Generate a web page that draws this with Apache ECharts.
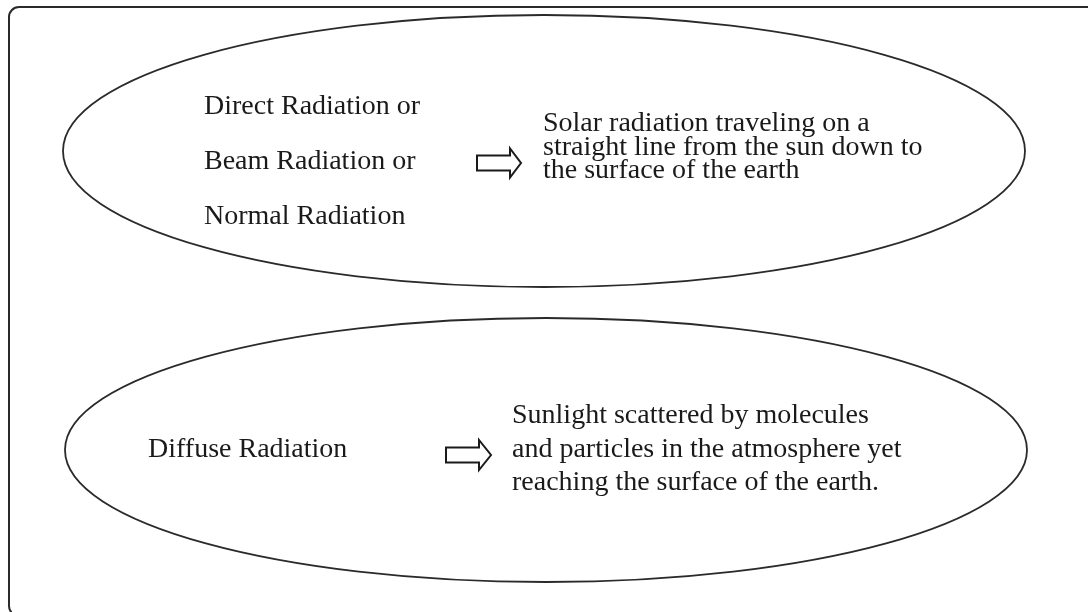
<!DOCTYPE html>
<html>
<head>
<meta charset="utf-8">
<script src="https://cdn.jsdelivr.net/npm/echarts@6/dist/echarts.min.js"></script>
<style>
  html, body { margin: 0; padding: 0; background: #fff; }
  #main { width: 1088px; height: 612px; }
</style>
</head>
<body>
<div id="main"></div>
<script>
// radiation types and their descriptions
const leftTop = ['Direct Radiation or', 'Beam Radiation or', 'Normal Radiation'];
const rightTop = ['Solar radiation traveling on a', 'straight line from the sun down to', 'the surface of the earth'];
const leftBottom = ['Diffuse Radiation'];
const rightBottom = ['Sunlight scattered by molecules', 'and particles in the atmosphere yet', 'reaching the surface of the earth.'];

const font = '"Liberation Serif", "Times New Roman", serif';
const ink = '#1a1a1a';
const lineColor = '#2a2a2a';

function textLines(lines, x, y0, step) {
    return lines.map((t, i) => ({
        type: 'text',
        x: x,
        y: y0 + i * step,
        style: {
            text: t,
            fill: ink,
            font: '28px ' + font,
            textVerticalAlign: 'middle'
        }
    }));
}

function arrow(x, cy, bodyLen, headLen, bodyH, headH) {
    const b = bodyH / 2, h = headH / 2;
    return {
        type: 'polygon',
        shape: {
            points: [
                [x, cy - b], [x + bodyLen, cy - b], [x + bodyLen, cy - h],
                [x + bodyLen + headLen, cy], [x + bodyLen, cy + h],
                [x + bodyLen, cy + b], [x, cy + b]
            ]
        },
        style: { fill: '#fff', stroke: '#1a1a1a', lineWidth: 2 }
    };
}

const chart = echarts.init(document.getElementById('main'));

chart.setOption({
    backgroundColor: '#fff',
    graphic: [
        {
            type: 'rect',
            shape: { x: 9, y: 7, width: 1090, height: 609, r: 10 },
            style: { fill: 'none', stroke: lineColor, lineWidth: 2 }
        },
        {
            type: 'ellipse',
            shape: { cx: 544, cy: 151, rx: 481, ry: 136 },
            style: { fill: 'none', stroke: lineColor, lineWidth: 1.8 }
        },
        {
            type: 'ellipse',
            shape: { cx: 546, cy: 450, rx: 481, ry: 132 },
            style: { fill: 'none', stroke: lineColor, lineWidth: 1.8 }
        },
        arrow(477, 163, 33, 11, 15, 29),
        arrow(446, 455, 33, 12, 15, 30),
        ...textLines(leftTop, 204, 107, 55),
        ...textLines(rightTop, 543, 124, 23.5),
        ...textLines(leftBottom, 148, 450, 0),
        ...textLines(rightBottom, 512, 416, 33.5)
    ]
});
</script>
</body>
</html>
